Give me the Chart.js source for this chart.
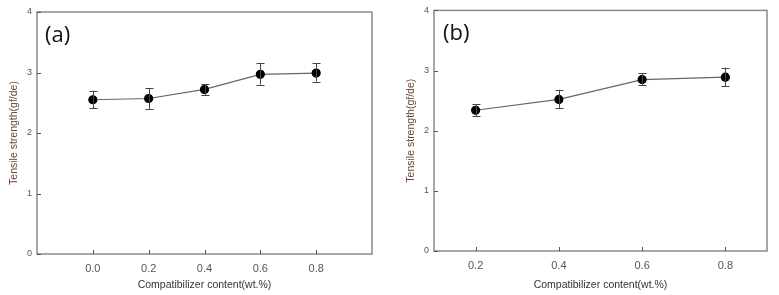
<!DOCTYPE html>
<html>
<head>
<meta charset="utf-8">
<script src="https://cdn.jsdelivr.net/npm/chart.js@4.4.1/dist/chart.umd.min.js"></script>
<style>
  html, body { margin: 0; padding: 0; background: #fff; }
  .panel { position: absolute; top: 0; height: 295px; }
  #pa { left: 0; width: 390px; }
  #pb { left: 390px; width: 389px; }
</style>
</head>
<body>
<div class="panel" id="pa"><canvas id="chartA"></canvas></div>
<div class="panel" id="pb"><canvas id="chartB"></canvas></div>
<script>
// panel (a)
const contentA = [0.0, 0.2, 0.4, 0.6, 0.8];
const strengthA = [2.55, 2.57, 2.72, 2.97, 2.99];
const lowA = [2.41, 2.40, 2.63, 2.80, 2.85];
const highA = [2.70, 2.74, 2.81, 3.16, 3.15];

// panel (b)
const contentB = [0.2, 0.4, 0.6, 0.8];
const strengthB = [2.34, 2.52, 2.85, 2.89];
const lowB = [2.24, 2.38, 2.76, 2.74];
const highB = [2.44, 2.68, 2.96, 3.05];

const yTicks = [0, 1, 2, 3, 4];
const xTicksA = [0.0, 0.2, 0.4, 0.6, 0.8];
const xTicksB = [0.2, 0.4, 0.6, 0.8];

const xTitle = "Compatibilizer content(wt.%)";
const yTitle = "Tensile strength(gf/de)";

// frame, inward ticks, error bars and panel letter
const decor = {
  id: "decor",
  afterDatasetsDraw(chart, args, opts) {
    const c = chart.ctx;
    const a = chart.chartArea;
    const xs = chart.scales.x, ys = chart.scales.y;
    c.save();
    c.strokeStyle = "#8a8a8a";
    c.lineWidth = 1.5;
    c.strokeRect(a.left, a.top, a.right - a.left, a.bottom - a.top);
    c.lineWidth = 1;
    c.strokeStyle = "#555";
    c.beginPath();
    xs.ticks.forEach(t => {
      const px = Math.round(xs.getPixelForValue(t.value)) + 0.5;
      c.moveTo(px, a.bottom); c.lineTo(px, a.bottom - 4);
    });
    ys.ticks.forEach(t => {
      const py = Math.round(ys.getPixelForValue(t.value)) + 0.5;
      c.moveTo(a.left, py); c.lineTo(a.left + 4, py);
    });
    c.stroke();

    // error bars
    c.strokeStyle = "#444";
    c.beginPath();
    opts.xs.forEach((x, i) => {
      const px = Math.round(xs.getPixelForValue(x)) + 0.5;
      const y1 = ys.getPixelForValue(opts.low[i]);
      const y2 = ys.getPixelForValue(opts.high[i]);
      c.moveTo(px, y1); c.lineTo(px, y2);
      c.moveTo(px - 4, Math.round(y1) + 0.5); c.lineTo(px + 4, Math.round(y1) + 0.5);
      c.moveTo(px - 4, Math.round(y2) + 0.5); c.lineTo(px + 4, Math.round(y2) + 0.5);
    });
    c.stroke();

    c.fillStyle = "#111";
    c.font = "22px 'Open Sans', sans-serif";
    c.textBaseline = "middle";
    c.fillText(opts.letter, a.left + opts.letterDx, a.top + opts.letterDy);
    c.restore();
  }
};

function makeChart(id, xs, ys, low, high, xTicks, xMin, xMax, letter, pad, yAxisW, xAxisH, letterDx, letterDy) {
  new Chart(document.getElementById(id), {
    type: "line",
    data: {
      datasets: [{
        data: xs.map((x, i) => ({ x: x, y: ys[i] })),
        borderColor: "#666",
        borderWidth: 1.2,
        pointBackgroundColor: "#000",
        pointBorderColor: "#000",
        pointRadius: 4,
        tension: 0
      }]
    },
    options: {
      responsive: true,
      maintainAspectRatio: false,
      animation: false,
      layout: { padding: pad },
      plugins: {
        legend: { display: false },
        tooltip: { enabled: false },
        decor: { xs: xs, low: low, high: high, letter: letter, letterDx: letterDx, letterDy: letterDy }
      },
      scales: {
        x: {
          type: "linear",
          min: xMin, max: xMax,
          afterBuildTicks: s => { s.ticks = xTicks.map(v => ({ value: v })); },
          afterFit: s => { s.height = xAxisH; },
          grid: { display: false, drawTicks: false },
          border: { display: false },
          ticks: {
            padding: 8,
            color: "#555",
            font: { family: "'Liberation Sans', Arial, sans-serif", size: 11 },
            callback: v => v.toFixed(1)
          },
          title: {
            display: true, text: xTitle, color: "#333",
            font: { family: "'Liberation Sans', Arial, sans-serif", size: 10.5 },
            padding: { top: 3, bottom: 0 }
          }
        },
        y: {
          min: 0, max: 4,
          afterBuildTicks: s => { s.ticks = yTicks.map(v => ({ value: v })); },
          afterFit: s => { s.width = yAxisW; },
          grid: { display: false, drawTicks: false },
          border: { display: false },
          ticks: {
            padding: 5,
            color: "#555",
            font: { family: "'Liberation Sans', Arial, sans-serif", size: 9 }
          },
          title: {
            display: true, text: yTitle, color: "#6b4535",
            font: { family: "'Liberation Sans', Arial, sans-serif", size: 10.5 },
            padding: { top: 0, bottom: 0 }
          }
        }
      }
    },
    plugins: [decor]
  });
}

makeChart("chartA", contentA, strengthA, lowA, highA, xTicksA, -0.2, 1.0, "(a)",
  { top: 12, right: 18, left: 8, bottom: 4 }, 29, 37, 8, 24);
makeChart("chartB", contentB, strengthB, lowB, highB, xTicksB, 0.1, 0.9, "(b)",
  { top: 10, right: 12, left: 15, bottom: 4 }, 29, 40, 9, 23);
</script>
</body>
</html>
